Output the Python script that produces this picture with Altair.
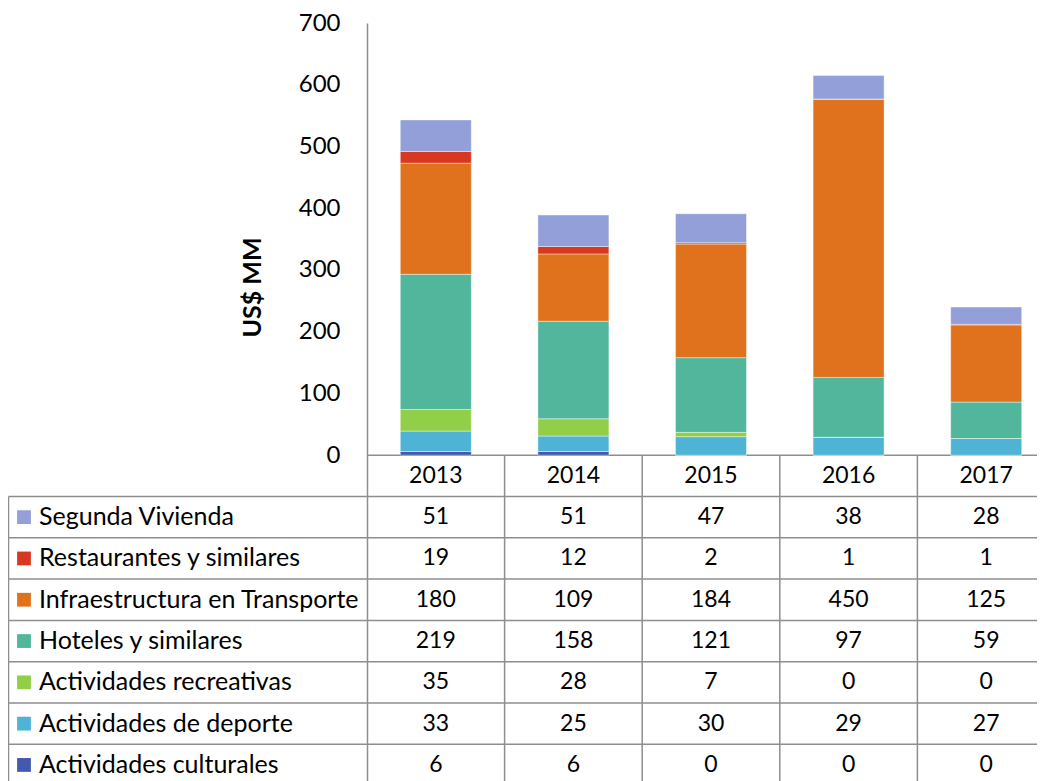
import altair as alt
import pandas as pd

# ---------------- data ----------------
years = ["2013", "2014", "2015", "2016", "2017"]
series = [
    "Segunda Vivienda",
    "Restaurantes y similares",
    "Infraestructura en Transporte",
    "Hoteles y similares",
    "Actividades recreativas",
    "Actividades de deporte",
    "Actividades culturales",
]
segunda_vivienda = [51, 51, 47, 38, 28]
restaurantes = [19, 12, 2, 1, 1]
infraestructura = [180, 109, 184, 450, 125]
hoteles = [219, 158, 121, 97, 59]
recreativas = [35, 28, 7, 0, 0]
deporte = [33, 25, 30, 29, 27]
culturales = [6, 6, 0, 0, 0]
values = [segunda_vivienda, restaurantes, infraestructura, hoteles,
          recreativas, deporte, culturales]
colors = ["#929FD8", "#D7381F", "#E0711D", "#51B69B", "#92CF48", "#4EB3D5", "#4358AF"]
y_ticks = [0, 100, 200, 300, 400, 500, 600, 700]

# ---------------- layout ----------------
FONT = "Lato"
COL_W = 137.6               # px per year column
PX_PER_UNIT = 432.2 / 700   # px per US$ MM
ROW_PX = 41.3               # table row height (px)
PLOT_W = 670
PLOT_H = 770
ROW_U = ROW_PX / PX_PER_UNIT
LEFT_EDGE = -(367 - 8.5) / COL_W
SWATCH_X = -(367 - 24) / COL_W
LABEL_X = -(367 - 39) / COL_W
BAR_HALF = 0.258
GRID = "#8E8E8E"

# ---------------- tables ----------------
bar_rows = []
for j, yr in enumerate(years):
    base = 0
    for name, vals in reversed(list(zip(series, values))):
        v = vals[j]
        bar_rows.append(dict(series=name, x=j + 0.5 - BAR_HALF, x2=j + 0.5 + BAR_HALF,
                             y=base, y2=base + v))
        base += v
bars_df = pd.DataFrame(bar_rows)

year_df = pd.DataFrame({"x": [j + 0.5 for j in range(len(years))],
                        "y": [-ROW_U / 2] * len(years), "label": years})

cell_rows = []
for i, (name, vals) in enumerate(zip(series, values)):
    for j, v in enumerate(vals):
        cell_rows.append(dict(x=j + 0.5, y=-(i + 1.5) * ROW_U, label=str(v)))
cells_df = pd.DataFrame(cell_rows)

legend_df = pd.DataFrame({
    "series": series,
    "xs": [SWATCH_X] * len(series),
    "x": [LABEL_X] * len(series),
    "y": [-(i + 1.5) * ROW_U for i in range(len(series))],
})

line_rows = []
for i in range(len(series) + 1):
    line_rows.append(dict(x=0 if i == 0 else LEFT_EDGE, x2=5.2, y=-i * ROW_U, y2=-i * ROW_U))
line_rows.append(dict(x=LEFT_EDGE, x2=LEFT_EDGE, y=-ROW_U, y2=-10 * ROW_U))
for j in range(1, len(years)):
    line_rows.append(dict(x=j, x2=j, y=0, y2=-10 * ROW_U))
lines_df = pd.DataFrame(line_rows)

# ---------------- encodings ----------------
xscale = alt.Scale(domain=[0, PLOT_W / COL_W], nice=False, zero=False)
yscale = alt.Scale(domain=[700 - PLOT_H / PX_PER_UNIT, 700], nice=False, zero=False)
yaxis = alt.Axis(values=y_ticks, title="US$ MM", grid=False, ticks=False, tickSize=0,
                 labelPadding=27, labelFont=FONT, labelFontSize=24, labelColor="black",
                 domainColor=GRID, domainWidth=1.5,
                 titleFont=FONT, titleFontSize=25, titleFontWeight="bold", titleColor="black",
                 titleAngle=270, titleX=-115, titleY=264, titleAlign="center",
                 titleBaseline="middle")


def X(f="x"):
    return alt.X(f"{f}:Q", scale=xscale, axis=None)


def Y(f="y"):
    return alt.Y(f"{f}:Q", scale=yscale, axis=yaxis)


color = alt.Color("series:N", scale=alt.Scale(domain=series, range=colors), legend=None)

bars = alt.Chart(bars_df).mark_bar(stroke="white", strokeWidth=0.6, strokeOpacity=0.7).encode(
    x=X(), x2="x2:Q", y=Y(), y2="y2:Q", color=color)

lines = alt.Chart(lines_df).mark_rule(color=GRID, strokeWidth=1.5).encode(
    x=X(), x2="x2:Q", y=Y(), y2="y2:Q")

year_text = alt.Chart(year_df).mark_text(font=FONT, fontSize=23, color="black",
                                         align="center", baseline="middle").encode(
    x=X(), y=Y(), text="label:N")

cell_text = alt.Chart(cells_df).mark_text(font=FONT, fontSize=23, color="black",
                                          align="center", baseline="middle").encode(
    x=X(), y=Y(), text="label:N")

swatches = alt.Chart(legend_df).mark_square(size=190, opacity=1, filled=True).encode(
    x=X("xs"), y=Y(), color=color)

legend_text = alt.Chart(legend_df).mark_text(font=FONT, fontSize=25, color="black",
                                             align="left", baseline="middle").encode(
    x=X(), y=Y(), text="series:N")

chart = alt.layer(lines, bars, year_text, cell_text, swatches, legend_text).properties(
    width=PLOT_W, height=PLOT_H,
    autosize=alt.AutoSizeParams(type="none"),
    padding={"left": 359, "top": 15, "right": 0, "bottom": 0},
    background="white",
).configure_view(stroke=None)

chart.save("out.html", embed_options={"renderer": "svg", "actions": False})
